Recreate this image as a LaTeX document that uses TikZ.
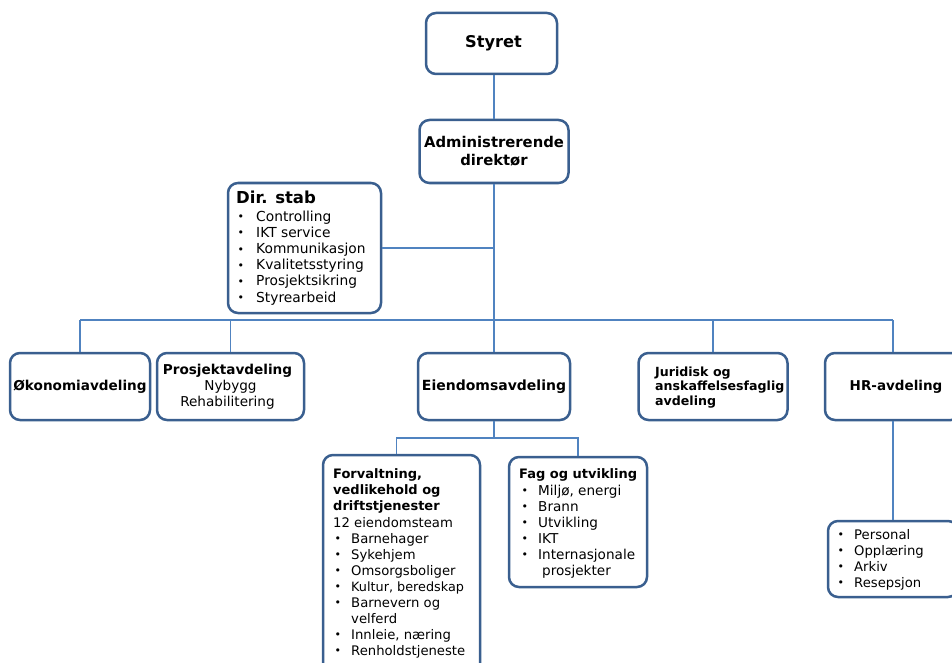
\documentclass[tikz,border=0pt]{standalone}
\usepackage{fontspec}
\setmainfont{DejaVu Sans}
\usepackage{array}
\definecolor{bord}{HTML}{3A5F8F}
\definecolor{connc}{HTML}{5083C0}
\newcommand\bul[1][1.5pt]{\hspace*{#1}\raisebox{0.4pt}{\fontsize{11}{11}\selectfont\textbullet}}
\newcommand\fb{\fontsize{13}{16}\selectfont\bfseries}
\begin{document}
\begin{tikzpicture}[x=1pt,y=-1pt,
  box/.style={draw=bord, line width=2.5pt, rounded corners=10pt, fill=white, inner sep=0pt, align=center},
  conn/.style={draw=connc, line width=1.8pt},
  txt/.style={inner sep=0pt, anchor=base west, align=left}]
\useasboundingbox (0,0) rectangle (952,663);
\clip (0,0) rectangle (952,663);

% boxes
\node[box, minimum width=131pt, minimum height=61pt, font=\fontsize{16.2}{19}\selectfont\bfseries] (styret) at (491.5,43.5) {\hspace*{4pt}Styret};
\node[box, minimum width=149pt, minimum height=63pt, font=\fontsize{14.8}{18}\selectfont\bfseries] (admin) at (494,151.5) {Administrerende\\direktør};
\node[box, minimum width=153pt, minimum height=130pt] (dirstab) at (304.5,248) {};
\node[box, minimum width=140pt, minimum height=67pt, font=\fontsize{13.6}{16}\selectfont\bfseries] (okon) at (80,386.5) {Økonomiavdeling};
\node[box, minimum width=147pt, minimum height=67pt, font=\fontsize{13.6}{16}\selectfont] (prosj) at (230.5,386.5) {\textbf{Prosjektavdeling}\hspace*{6pt}\\Nybygg\hspace*{6pt}\\Rehabilitering\hspace*{6pt}};
\node[box, minimum width=152pt, minimum height=67pt, font=\fontsize{14}{16}\selectfont\bfseries] (eiend) at (494,386.5) {Eiendomsavdeling};
\node[box, minimum width=149pt, minimum height=67pt] (jurid) at (713,386.5) {};
\node[box, minimum width=136pt, minimum height=67pt, font=\fontsize{13.5}{16}\selectfont\bfseries] (hr) at (893,386.5) {\hspace*{6pt}HR-avdeling};
\node[box, minimum width=157pt, minimum height=225pt] (forv) at (401.5,567.5) {};
\node[box, minimum width=138pt, minimum height=130pt] (fag) at (578,522) {};
\node[box, minimum width=130pt, minimum height=76pt] (hrsub) at (893,559) {};

% texts
\node[txt] (juridtxt) at (655,376) {\fontsize{12.6}{14.5}\selectfont\bfseries
\begin{tabular}[t]{@{}l@{}}
Juridisk og\\
anskaffelsesfaglig\\
avdeling
\end{tabular}};

\node[txt] (dirstabtxt) at (236,203) {\fontsize{13.8}{16.2}\selectfont
\begin{tabular}[t]{@{}p{20pt}@{}l@{}}
\multicolumn{2}{@{}l@{}}{\fontsize{16.5}{16}\selectfont\bfseries Dir. stab}\\[1.8pt]
\bul & Controlling\\
\bul & IKT service\\
\bul & Kommunikasjon\\
\bul & Kvalitetsstyring\\
\bul & Prosjektsikring\\
\bul & Styrearbeid
\end{tabular}};

\node[txt] (forvtxt) at (333,478) {\fontsize{13.2}{16}\selectfont
\begin{tabular}[t]{@{}p{18pt}@{}l@{}}
\multicolumn{2}{@{}l@{}}{\fb Forvaltning,}\\
\multicolumn{2}{@{}l@{}}{\fb vedlikehold og}\\
\multicolumn{2}{@{}l@{}}{\fb driftstjenester}\\[1pt]
\multicolumn{2}{@{}l@{}}{12 eiendomsteam}\\
\bul & Barnehager\\
\bul & Sykehjem\\
\bul & Omsorgsboliger\\
\bul & {\fontsize{12.8}{16}\selectfont Kultur, beredskap}\\
\bul & Barnevern og\\
     & velferd\\
\bul & Innleie, næring\\
\bul & Renholdstjeneste
\end{tabular}};

\node[txt] (fagtxt) at (519,478) {\fontsize{13.6}{16}\selectfont
\begin{tabular}[t]{@{}p{19pt}@{}l@{}}
\multicolumn{2}{@{}l@{}}{\fb Fag og utvikling}\\[1pt]
\bul[2.5pt] & Miljø, energi\\
\bul[2.5pt] & Brann\\
\bul[2.5pt] & Utvikling\\
\bul[2.5pt] & IKT\\
\bul[2.5pt] & Internasjonale\\
          & \hspace*{4pt}prosjekter
\end{tabular}};

\node[txt] (hrsubtxt) at (836,539) {\fontsize{13.2}{16}\selectfont
\begin{tabular}[t]{@{}p{18pt}@{}l@{}}
\bul & Personal\\
\bul & Opplæring\\
\bul & Arkiv\\
\bul & Resepsjon
\end{tabular}};

% connectors
\coordinate (busL) at (80,320);
\draw[conn] (styret.south -| admin.north) -- (admin.north);
\draw[conn] (admin.south) -- (eiend.north);
\draw[conn] (dirstab.east) -- (dirstab.east -| admin.south);
\draw[conn] (okon.north |- busL) -- (hr.north |- busL);
\draw[conn] (okon.north) -- (okon.north |- busL);
\draw[conn] (prosj.north) -- (prosj.north |- busL);
\draw[conn] (jurid.north) -- (jurid.north |- busL);
\draw[conn] (hr.north) -- (hr.north |- busL);
\draw[conn] (eiend.south) -- ++(0,17) coordinate (subbus);
\draw[conn] ([xshift=-5pt]forv.north) |- (subbus) -| (fag.north);
\draw[conn] (hr.south) -- (hrsub.north);
\end{tikzpicture}
\end{document}
